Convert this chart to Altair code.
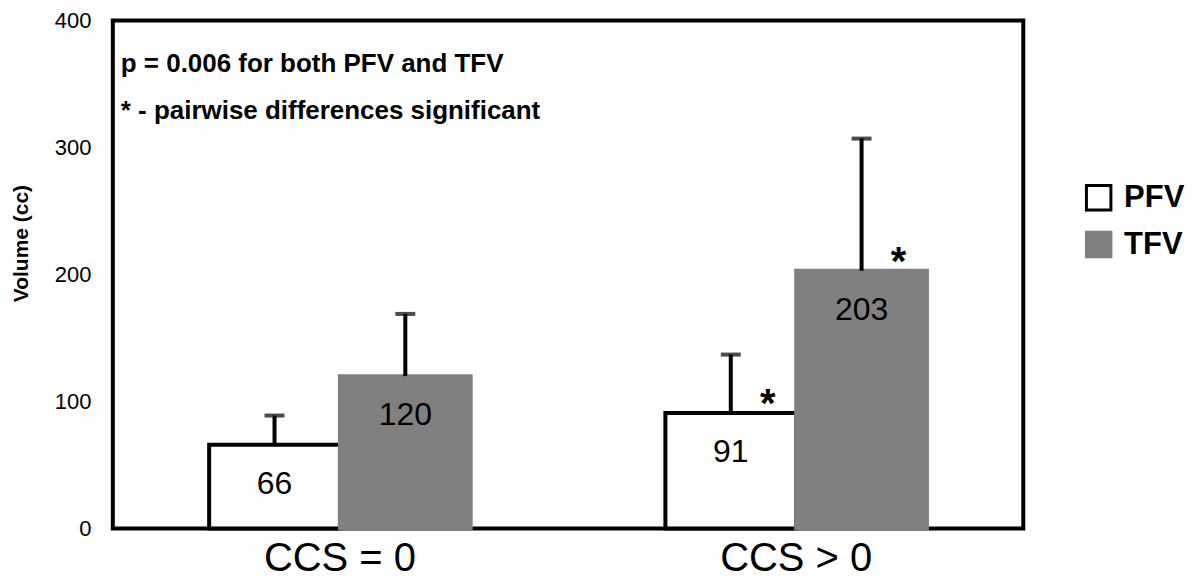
import altair as alt
import pandas as pd

categories = ["CCS = 0", "CCS = 0", "CCS > 0", "CCS > 0"]
series = ["PFV", "TFV", "PFV", "TFV"]
means = [66, 120, 91, 203]
errors = [23, 49, 46, 104]
sig = ["", "", "*", "*"]
y_ticks = [0, 100, 200, 300, 400]
notes = ["p = 0.006 for both PFV and TFV", "* - pairwise differences significant"]

df = pd.DataFrame({
    "cat": categories,
    "series": series,
    "mean": means,
    "err": errors,
    "sig": sig,
})
df["upper"] = df["mean"] + df["err"]
df["label"] = df["mean"].astype(str)

FONT = "Liberation Sans"

x_enc = alt.X("cat:N", title=None, sort=["CCS = 0", "CCS > 0"],
              scale=alt.Scale(paddingInner=0.4267, paddingOuter=0.2111),
              axis=alt.Axis(labelAngle=0, labelFontSize=40, labelFont=FONT,
                            labelColor="black", ticks=False, domain=False,
                            labelPadding=10))
xo_enc = alt.XOffset("series:N", sort=["PFV", "TFV"],
                     scale=alt.Scale(paddingInner=0, paddingOuter=0))
y_scale = alt.Scale(domain=[0, 400], nice=False)

base = alt.Chart(df)

bars = base.mark_bar(strokeWidth=4).encode(
    x=x_enc,
    xOffset=xo_enc,
    y=alt.Y("mean:Q", scale=y_scale, title="Volume (cc)",
            axis=alt.Axis(values=y_ticks, grid=False, ticks=False, domain=False,
                          labelFontSize=22, labelFont=FONT, labelColor="black",
                          labelPadding=22, titleFont=FONT, titleFontSize=21,
                          titleFontWeight="bold", titleColor="black",
                          titleAngle=270, titleX=-91, titleY=223,
                          titleAlign="center", titleBaseline="middle")),
    fill=alt.Fill("series:N", sort=["PFV", "TFV"],
                  scale=alt.Scale(domain=["PFV", "TFV"], range=["white", "#808080"]),
                  legend=alt.Legend(title=None, orient="none", legendX=972, legendY=162,
                                    symbolType="square", symbolSize=600,
                                    symbolStrokeWidth=3, labelFontSize=31,
                                    labelFont=FONT, labelFontWeight="bold",
                                    labelColor="black", labelOffset=10,
                                    rowPadding=10)),
    stroke=alt.Stroke("series:N", sort=["PFV", "TFV"],
                      scale=alt.Scale(domain=["PFV", "TFV"], range=["black", "#808080"]),
                      legend=None),
)

rules = base.mark_rule(strokeWidth=4, color="black").encode(
    x=x_enc, xOffset=xo_enc,
    y=alt.Y("mean:Q", scale=y_scale), y2="upper:Q",
)

caps = base.mark_tick(size=20, thickness=4, color="black").encode(
    x=x_enc, xOffset=xo_enc,
    y=alt.Y("upper:Q", scale=y_scale),
)

values = base.mark_text(fontSize=32, font=FONT, color="black",
                        baseline="middle", dy=39).encode(
    x=x_enc, xOffset=xo_enc,
    y=alt.Y("mean:Q", scale=y_scale),
    text="label:N",
)

stars = base.mark_text(fontSize=40, font=FONT, fontWeight="bold", color="black",
                       baseline="alphabetic", dx=37, dy=4).encode(
    x=x_enc, xOffset=xo_enc,
    y=alt.Y("mean:Q", scale=y_scale),
    text="sig:N",
)

notes_df = pd.DataFrame({"note": notes, "row": [0, 1]})
note1 = alt.Chart(notes_df).transform_filter("datum.row == 0").mark_text(
    fontSize=26, font=FONT, fontWeight="bold", color="black",
    align="left", baseline="alphabetic").encode(
    x=alt.value(8), y=alt.value(52), text="note:N")
note2 = alt.Chart(notes_df).transform_filter("datum.row == 1").mark_text(
    fontSize=26, font=FONT, fontWeight="bold", color="black",
    align="left", baseline="alphabetic").encode(
    x=alt.value(8), y=alt.value(99), text="note:N")

chart = alt.layer(bars, rules, caps, values, stars, note1, note2).properties(
    width=912, height=509,
    autosize=alt.AutoSizeParams(type="none"),
    padding={"left": 105, "top": 12, "right": 170, "bottom": 50},
).configure(
    background="white",
    view=alt.ViewConfig(stroke="black", strokeWidth=4),
)

chart.save("out.html", embed_options={"renderer": "svg", "actions": False})
